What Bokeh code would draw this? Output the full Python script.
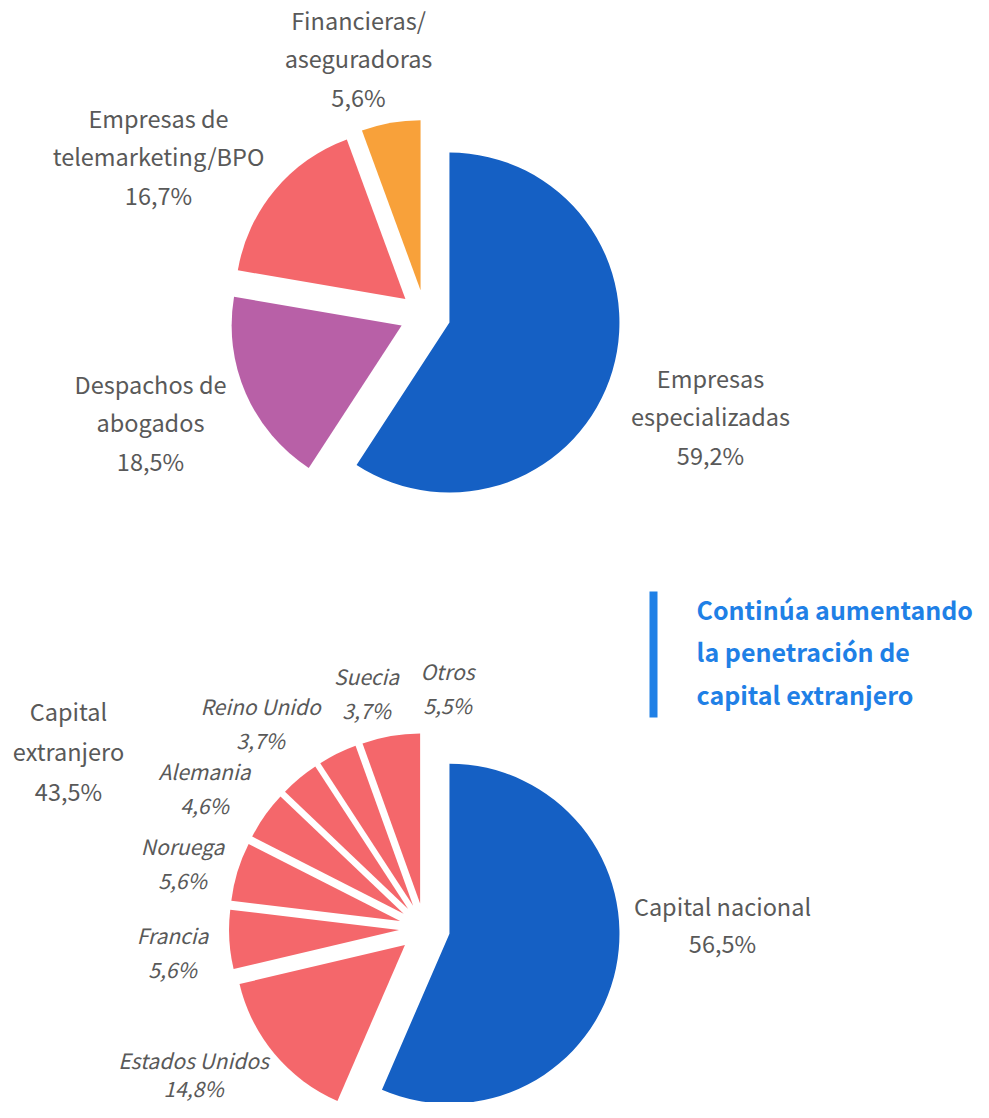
import math
from bokeh.plotting import figure
from bokeh.models import Range1d, ColumnDataSource
from bokeh.core.properties import value
from bokeh.embed import file_html
from bokeh.resources import INLINE

# ---------------- data ----------------
top_names = ["Empresas especializadas", "Despachos de abogados",
             "Empresas de telemarketing/BPO", "Financieras/aseguradoras"]
top_shares = [59.2, 18.5, 16.7, 5.6]
top_lines = [["Empresas", "especializadas", "59,2%"],
             ["Despachos de", "abogados", "18,5%"],
             ["Empresas de", "telemarketing/BPO", "16,7%"],
             ["Financieras/", "aseguradoras", "5,6%"]]

bot_names = ["Capital nacional", "Estados Unidos", "Francia", "Noruega",
             "Alemania", "Reino Unido", "Suecia", "Otros"]
bot_shares = [56.5, 14.8, 5.6, 5.6, 4.6, 3.7, 3.7, 5.5]
bot_pct = ["56,5%", "14,8%", "5,6%", "5,6%", "4,6%", "3,7%", "3,7%", "5,5%"]
foreign_total = "43,5%"
callout = ["Continúa aumentando", "la penetración de", "capital extranjero"]

# ---------------- style ----------------
BLUE = "#1560C4"
MAGENTA = "#B860A7"
SALMON = "#F4676B"
ORANGE = "#F8A13A"
GRAY = "#595959"
CALL = "#1F80E6"
FONT = "Noto Sans CJK JP"
top_colors = [BLUE, MAGENTA, SALMON, ORANGE]
bot_colors = [BLUE] + [SALMON] * 7

W, H = 973, 1102
PAGE_H = 1118
TEXT_SHIFT = -3


def Y(sy):
    return PAGE_H - sy


p = figure(width=W, height=H, x_range=Range1d(0, W), y_range=Range1d(PAGE_H - H, PAGE_H),
           output_backend="svg", toolbar_location=None, min_border=0,
           outline_line_color=None, background_fill_color="white")
p.axis.visible = False
p.grid.visible = False


def pie(shares, colors, cx, cy, r, d):
    tot = sum(shares)
    cum = 0.0
    xs, ys, st, en, cs = [], [], [], [], []
    for s, c in zip(shares, colors):
        a_end = math.pi / 2 - 2 * math.pi * cum / tot
        cum += s
        a_start = math.pi / 2 - 2 * math.pi * cum / tot
        mid = (a_start + a_end) / 2
        xs.append(cx + d * math.cos(mid))
        ys.append(cy + d * math.sin(mid))
        st.append(a_start)
        en.append(a_end)
        cs.append(c)
    src = ColumnDataSource(dict(x=xs, y=ys, s=st, e=en, c=cs))
    p.wedge(x="x", y="y", radius=r, start_angle="s", end_angle="e",
            direction="anticlock", fill_color="c", line_color=None, source=src)


pie(top_shares, top_colors, 424.5, Y(314.8), 170, 25.5)
pie(bot_shares, bot_colors, 424.0, Y(928.0), 170, 25.5)


def label(lines, x, y0, dy, size, color=GRAY, style="normal", align="center"):
    ys = [Y(y0 + TEXT_SHIFT + i * dy) for i in range(len(lines))]
    p.text(x=[x] * len(lines), y=ys, text=lines, text_font=value(FONT),
           text_font_size=value(f"{size}px"), text_color=color,
           text_font_style=style, text_align=align, text_baseline="middle")


# top labels
top_pos = [(710, 380), (150, 386), (158, 120), (358, 22)]
for lines, (x, y) in zip(top_lines, top_pos):
    label(lines, x, y, 38.5, 23.5)

# bottom labels
label([bot_names[0], bot_pct[0]], 722, 908, 37, 23.5)
label(["Capital", "extranjero", foreign_total], 68, 713, 40, 23.5)
bot_pos = [None, (193, 1062), (172, 937), (182, 848), (204, 773),
           (260, 708), (366, 678), (447, 673)]
bot_dy = [None, 28, 34, 34, 34, 34, 34, 34]
for i in range(1, len(bot_names)):
    x, y = bot_pos[i]
    label([bot_names[i], bot_pct[i]], x, y, bot_dy[i], 21, style="italic")

# callout
p.quad(left=[649], right=[657], top=[Y(591)], bottom=[Y(717)],
       fill_color=CALL, line_color=None)
label(callout, 696, 611, 42.5, 25, color=CALL, style="bold", align="left")

open("out.html", "w").write(file_html(p, INLINE))
